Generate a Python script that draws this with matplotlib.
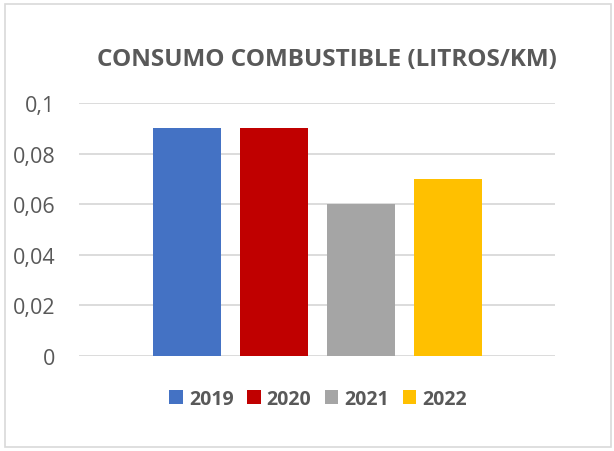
import matplotlib
matplotlib.use("Agg")
import matplotlib.pyplot as plt
from matplotlib.patches import Rectangle
from matplotlib.ticker import FuncFormatter

TITLE = "CONSUMO COMBUSTIBLE (LITROS/KM)"
YEARS = ["2019", "2020", "2021", "2022"]
CONSUMO = [0.09, 0.09, 0.06, 0.07]
COLORS = ["#4472C4", "#C00000", "#A5A5A5", "#FFC000"]
YTICKS = [0, 0.02, 0.04, 0.06, 0.08, 0.1]

TEXT = "#595959"
plt.rcParams["font.family"] = ["Open Sans", "DejaVu Sans"]

fig = plt.figure(figsize=(6.14, 4.52), dpi=100)
ax = fig.add_axes([79 / 614, 1 - 357 / 452, 476 / 614, 253 / 452])

for i, (yr, val, col) in enumerate(zip(YEARS, CONSUMO, COLORS)):
    ax.bar(i, val, width=0.78, color=col, label=yr, zorder=3)

ax.set_xlim(-1.24, 4.23)
ax.set_ylim(0, 0.1)
ax.set_yticks(YTICKS)
ax.yaxis.set_major_formatter(FuncFormatter(lambda v, p: f"{v:g}".replace(".", ",")))
ax.set_xticks([])
ax.tick_params(axis="y", length=0, pad=17, labelsize=15.5, labelcolor=TEXT)
ax.grid(axis="y", color="#D9D9D9", lw=1.3, zorder=0)
for s in ax.spines.values():
    s.set_visible(False)

fig.text(327 / 614, 1 - 60 / 452, TITLE, ha="center", va="center",
         fontsize=17.5, fontweight="bold", color=TEXT)

leg = fig.legend(loc="center", bbox_to_anchor=(318 / 614, 1 - 400 / 452), ncol=4,
                 frameon=False, handlelength=0.7, handleheight=0.7,
                 handletextpad=0.3, columnspacing=0.7,
                 prop={"size": 14, "weight": "bold"})
for t in leg.get_texts():
    t.set_color(TEXT)

# light chart border
fig.patches.append(Rectangle((5 / 614, 4 / 452), 606 / 614, 443 / 452,
                             transform=fig.transFigure, fill=False,
                             edgecolor="#D9D9D9", lw=1.2))

fig.savefig("out.png", dpi=100)
